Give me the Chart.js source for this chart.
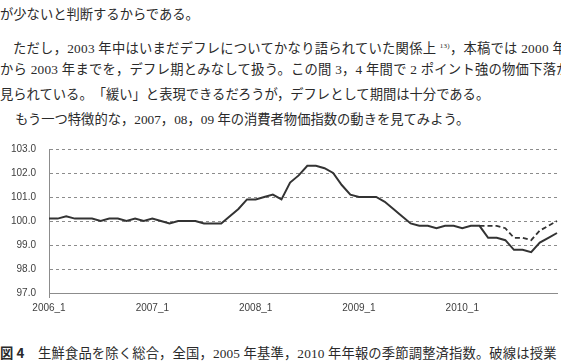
<!DOCTYPE html>
<html>
<head>
<meta charset="utf-8">
<script src="https://cdn.jsdelivr.net/npm/chart.js@4.4.0/dist/chart.umd.min.js"></script>
<style>
  html, body { margin: 0; padding: 0; background: #fff; }
  body { width: 561px; height: 363px; overflow: hidden; position: relative; }
  .txt {
    position: absolute; white-space: nowrap; color: #2a2a2a;
    font-family: "Liberation Serif", "Noto Sans CJK JP", serif;
    font-size: 13.3px; line-height: 16px;
    text-spacing-trim: space-all;
  }
  .txt sup { font-size: 7px; vertical-align: 5px; }
  .wide { letter-spacing: 0.25px; }
  .cap { letter-spacing: 0.15px; }
  .fig { font-family: "Noto Sans CJK JP", sans-serif; font-weight: bold; }
  #wrap { position: absolute; left: 0; top: 0; width: 561px; height: 363px; }
</style>
</head>
<body>
<div class="txt" style="left:0; top:7px;">が少ないと判断するからである。</div>
<div class="txt wide" style="left:13px; top:38px;">ただし，2003 年中はいまだデフレについてかなり語られていた関係上 <sup>13)</sup>，本稿では 2000 年</div>
<div class="txt wide" style="left:0; top:62px;">から 2003 年までを，デフレ期とみなして扱う。この間 3，4 年間で 2 ポイント強の物価下落が</div>
<div class="txt" style="left:0; top:87px;">見られている。「緩い」と表現できるだろうが，デフレとして期間は十分である。</div>
<div class="txt" style="left:15px; top:112px;">もう一つ特徴的な，2007，08，09 年の消費者物価指数の動きを見てみよう。</div>
<div class="txt cap" style="left:0; top:345px;"><span class="fig">図 4</span>　生鮮食品を除く総合，全国，2005 年基準，2010 年年報の季節調整済指数。破線は授業</div>

<div id="wrap"><canvas id="cpiChart"></canvas></div>

<script>
// monthly categories, 2006_1 .. 2010_12
const months = [
  "2006_1", "2006_2", "2006_3", "2006_4", "2006_5", "2006_6", "2006_7", "2006_8", "2006_9", "2006_10", "2006_11", "2006_12",
  "2007_1", "2007_2", "2007_3", "2007_4", "2007_5", "2007_6", "2007_7", "2007_8", "2007_9", "2007_10", "2007_11", "2007_12",
  "2008_1", "2008_2", "2008_3", "2008_4", "2008_5", "2008_6", "2008_7", "2008_8", "2008_9", "2008_10", "2008_11", "2008_12",
  "2009_1", "2009_2", "2009_3", "2009_4", "2009_5", "2009_6", "2009_7", "2009_8", "2009_9", "2009_10", "2009_11", "2009_12",
  "2010_1", "2010_2", "2010_3", "2010_4", "2010_5", "2010_6", "2010_7", "2010_8", "2010_9", "2010_10", "2010_11", "2010_12",
];

// solid line: index (seasonally adjusted)
const cpiIndex = [
  100.1, 100.1, 100.2, 100.1, 100.1, 100.1, 100.0, 100.1, 100.1, 100.0, 100.1, 100.0,
  100.1, 100.0, 99.9, 100.0, 100.0, 100.0, 99.9, 99.9, 99.9, 100.2, 100.5, 100.9,
  100.9, 101.0, 101.1, 100.9, 101.6, 101.9, 102.3, 102.3, 102.2, 102.0, 101.5, 101.1,
  101.0, 101.0, 101.0, 100.8, 100.5, 100.2, 99.9, 99.8, 99.8, 99.7, 99.8, 99.8,
  99.7, 99.8, 99.8, 99.3, 99.3, 99.2, 98.8, 98.8, 98.7, 99.1, 99.3, 99.5,
];

// dashed line: only the last months of 2010
const dashedStart = "2010_3";
const dashedValues = [99.8, 99.8, 99.8, 99.7, 99.3, 99.3, 99.2, 99.6, 99.8, 100.0];

const yTicks = [97, 98, 99, 100, 101, 102, 103];

let dashedSeries = months.map(() => null);
let startIdx = months.indexOf(dashedStart);
dashedValues.forEach((v, i) => { dashedSeries[startIdx + i] = v; });

const gridGrey = "#8c8c8c";
const labelGrey = "#404040";

let ctx = document.getElementById("cpiChart").getContext("2d");

let cpiChart = new Chart(ctx, {
  type: "line",
  data: {
    labels: months,
    datasets: [
      {
        data: cpiIndex,
        borderColor: "#333",
        borderWidth: 2,
        pointRadius: 0,
        tension: 0,
      },
      {
        data: dashedSeries,
        borderColor: "#333",
        borderWidth: 1.8,
        borderDash: [5, 3],
        pointRadius: 0,
        tension: 0,
        spanGaps: false,
      },
    ],
  },
  options: {
    responsive: true,
    maintainAspectRatio: false,
    animation: false,
    layout: {
      padding: { top: 149, right: 4, bottom: 40, left: 0 },
    },
    plugins: {
      legend: { display: false },
      tooltip: { enabled: false },
    },
    scales: {
      x: {
        offset: false,
        grid: {
          display: true,
          drawOnChartArea: false,
          drawTicks: true,
          tickLength: 5,
          tickColor: (c) => (c.index % 12 === 0 ? gridGrey : "rgba(0,0,0,0)"),
        },
        border: { display: true, color: gridGrey, width: 1 },
        ticks: {
          autoSkip: false,
          maxRotation: 0,
          padding: 4,
          color: labelGrey,
          font: { family: "Liberation Sans", size: 10 },
          callback: function (v, i) {
            return i % 12 === 0 ? months[i] : null;
          },
        },
        afterFit: (scale) => { scale.height = 30; },
      },
      y: {
        min: 97,
        max: 103,
        afterBuildTicks: (scale) => { scale.ticks = yTicks.map((v) => ({ value: v })); },
        grid: {
          color: gridGrey,
          lineWidth: 1,
          drawTicks: false,
        },
        border: { display: true, color: gridGrey, width: 1, dash: [3, 3] },
        ticks: {
          padding: 13,
          color: labelGrey,
          font: { family: "Liberation Sans", size: 10 },
          callback: (v) => Number(v).toFixed(1),
        },
        afterFit: (scale) => { scale.width = 49; },
      },
    },
  },
});
</script>
</body>
</html>
